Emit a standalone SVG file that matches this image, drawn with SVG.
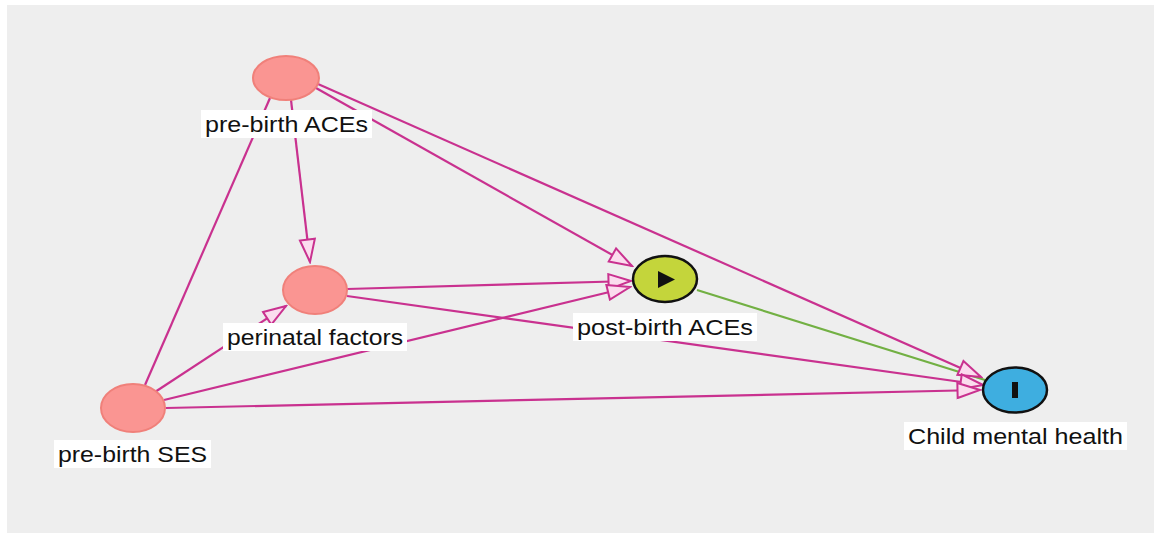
<svg xmlns="http://www.w3.org/2000/svg" width="1157" height="533" viewBox="0 0 1157 533">
<defs>
<style>
.e{stroke:#c9318f;stroke-width:2.2;fill:none}
.g{stroke:#72b043;stroke-width:2.2;fill:none}
.conf{fill:#fa9592;stroke:#f0807a;stroke-width:2}
.lbg{fill:#ffffff}
.lbl{font-family:"Liberation Sans",Arial,sans-serif;font-size:21.5px;fill:#111111}
</style>
<marker id="arr" viewBox="0 0 26 18" markerWidth="26" markerHeight="18" refX="24" refY="9" orient="auto" markerUnits="userSpaceOnUse">
<path d="M1.5,1.5 L24,9 L1.5,16.5 Z" fill="#fbdcee" stroke="#c9318f" stroke-width="2" stroke-linejoin="miter"/>
</marker>
</defs>
<rect x="7" y="5" width="1147" height="528" fill="#eeeeee"/>
<g id="connectors">
<line class="e" x1="145" y1="385" x2="270" y2="98"/>
<line class="e" x1="291" y1="100" x2="310" y2="262" marker-end="url(#arr)"/>
<line class="e" x1="155" y1="392" x2="286" y2="306" marker-end="url(#arr)"/>
<line class="e" x1="316" y1="88" x2="632" y2="266" marker-end="url(#arr)"/>
<line class="e" x1="347" y1="289" x2="631" y2="281" marker-end="url(#arr)"/>
<line class="e" x1="164" y1="400" x2="630" y2="287" marker-end="url(#arr)"/>
<line class="g" x1="697" y1="290" x2="985" y2="380"/>
<line class="e" x1="318" y1="84" x2="981" y2="377" marker-end="url(#arr)"/>
<line class="e" x1="347" y1="296" x2="983" y2="385" marker-end="url(#arr)"/>
<line class="e" x1="166" y1="408" x2="980" y2="390" marker-end="url(#arr)"/>
</g>
<g id="pre-birth-ACEs">
<ellipse class="conf" cx="286" cy="78" rx="33" ry="22"/>
<rect class="lbg" x="201" y="110" width="171" height="28"/>
<text class="lbl" x="205" y="132" textLength="163" lengthAdjust="spacingAndGlyphs">pre-birth ACEs</text>
</g>
<g id="perinatal-factors">
<ellipse class="conf" cx="315" cy="290" rx="32" ry="24"/>
<rect class="lbg" x="223" y="323" width="184" height="28"/>
<text class="lbl" x="227" y="345" textLength="176" lengthAdjust="spacingAndGlyphs">perinatal factors</text>
</g>
<g id="post-birth-ACEs">
<ellipse cx="665" cy="279" rx="32" ry="23" fill="#c4d53b" stroke="#111111" stroke-width="2.5"/>
<polygon points="658,271 675,279.5 658,288" fill="#111111"/>
<rect class="lbg" x="573" y="313" width="184" height="28"/>
<text class="lbl" x="577" y="335" textLength="176" lengthAdjust="spacingAndGlyphs">post-birth ACEs</text>
</g>
<g id="child-mental-health">
<ellipse cx="1015" cy="390" rx="32" ry="22.5" fill="#3eaee0" stroke="#111111" stroke-width="2.5"/>
<rect x="1012" y="382" width="6" height="16" fill="#111111"/>
<rect class="lbg" x="904" y="422" width="223" height="28"/>
<text class="lbl" x="908" y="444" textLength="215" lengthAdjust="spacingAndGlyphs">Child mental health</text>
</g>
<g id="pre-birth-SES">
<ellipse class="conf" cx="133" cy="408" rx="32" ry="24"/>
<rect class="lbg" x="54" y="440" width="157" height="28"/>
<text class="lbl" x="58" y="462" textLength="149" lengthAdjust="spacingAndGlyphs">pre-birth SES</text>
</g>
</svg>
